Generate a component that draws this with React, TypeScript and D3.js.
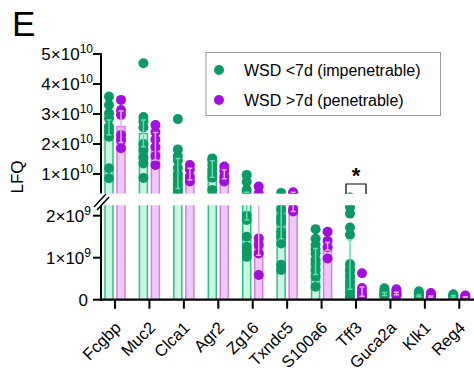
import React from 'react';
import * as d3 from 'd3';

// genes on the x axis
const categories = ['Fcgbp', 'Muc2', 'Clca1', 'Agr2', 'Zg16', 'Txndc5', 'S100a6', 'Tff3', 'Guca2a', 'Klk1', 'Reg4'];

// individual LFQ values, WSD <7d (impenetrable)
const greenPoints = [
  [3.58e10, 3.3e10, 3.02e10, 2.86e10, 2.58e10, 2.41e10, 2.24e10, 1.19e10, 0.86e10],
  [4.69e10, 2.9e10, 2.75e10, 2.55e10, 2.0e10, 1.8e10, 1.55e10, 1.35e10, 0.87e10],
  [2.83e10, 1.82e10, 1.6e10, 1.45e10, 1.2e10, 1.0e10, 0.85e10, 0.65e10, 0.5e10, 0.4e10],
  [1.52e10, 1.45e10, 1.3e10, 1.15e10, 1.0e10, 0.88e10, 0.47e10],
  [9.7e9, 7.4e9, 4.7e9, 3.6e9, 2.0e9, 1.9e9, 1.5e9, 1.26e9, 1.14e9, 1.02e9],
  [3.7e9, 2.15e9, 1.95e9, 1.85e9, 1.62e9, 1.5e9, 1.34e9, 0.83e9, 0.71e9],
  [1.68e9, 1.45e9, 1.3e9, 1.2e9, 1.1e9, 0.95e9, 0.85e9, 0.7e9, 0.55e9, 0.31e9],
  [2.2e9, 2.05e9, 1.72e9, 1.55e9, 0.85e9, 0.7e9, 0.55e9, 0.42e9, 0.3e9, 0.18e9, 0.08e9],
  [0.27e9, 0.22e9, 0.18e9, 0.15e9, 0.12e9, 0.1e9, 0.08e9],
  [0.2e9, 0.15e9, 0.12e9, 0.1e9, 0.08e9, 0.06e9],
  [0.13e9, 0.1e9, 0.08e9, 0.06e9],
];

// individual LFQ values, WSD >7d (penetrable)
const purplePoints = [
  [3.47e10, 3.13e10, 2.97e10, 2.3e10, 2.13e10, 1.86e10],
  [2.63e10, 2.4e10, 2.15e10, 1.9e10, 1.6e10, 1.3e10],
  [1.3e10, 1.15e10, 0.9e10, 0.75e10],
  [1.25e10, 1.1e10, 0.9e10, 0.75e10],
  [5.8e9, 3.6e9, 1.46e9, 1.3e9, 1.1e9, 0.59e9],
  [3.9e9, 3.6e9, 2.15e9, 2.1e9],
  [1.62e9, 1.4e9, 1.25e9, 0.98e9],
  [0.63e9, 0.28e9, 0.18e9, 0.1e9, 0.05e9],
  [0.25e9, 0.2e9, 0.15e9, 0.12e9, 0.1e9],
  [0.16e9, 0.12e9, 0.08e9, 0.06e9],
  [0.1e9, 0.08e9, 0.06e9],
];

// bar heights (mean) and error bar ends
const greenMean = [2.55e10, 2.35e10, 1.02e10, 1.17e10, 3.0e9, 2.3e9, 0.95e9, 0.83e9, 0.13e9, 0.09e9, 0.08e9];
const greenLo = [2.3e10, 1.91e10, 0.52e10, 0.89e10, 1.9e9, 1.45e9, 0.6e9, 0.25e9, 0.1e9, 0.07e9, 0.06e9];
const greenHi = [2.8e10, 2.8e10, 1.52e10, 1.44e10, 3.9e9, 3.15e9, 1.22e9, 1.42e9, 0.17e9, 0.11e9, 0.1e9];
const purpleMean = [2.58e10, 1.93e10, 1.0e10, 0.99e10, 1.5e9, 3.0e9, 1.27e9, 0.19e9, 0.15e9, 0.07e9, 0.06e9];
const purpleLo = [2.05e10, 1.47e10, 0.8e10, 0.84e10, 1.06e9, 2.1e9, 1.18e9, 0.08e9, 0.12e9, 0.05e9, 0.05e9];
const purpleHi = [3.1e10, 2.38e10, 1.19e10, 1.14e10, 2.6e9, 3.9e9, 1.36e9, 0.3e9, 0.18e9, 0.09e9, 0.07e9];

const topTicks = [1e10, 2e10, 3e10, 4e10, 5e10];
const bottomTicks = [0, 1e9, 2e9];

const seriesNames = ['WSD <7d (impenetrable)', 'WSD >7d (penetrable)'];

const FONT = '"Liberation Sans", Arial, sans-serif';
const GREEN = '#0b9a66';
const PURPLE = '#a30ee0';
const GREEN_FILL = '#cbf4e3';
const GREEN_EDGE = '#27c486';
const PURPLE_FILL = '#efcaf7';
const PURPLE_EDGE = '#d47cf0';
const GREEN_ERR = '#5ee0a8';
const PURPLE_ERR = '#f3a6f2';

const W = 474;
const H = 374;
const axisX = 101;

// broken y axis: two segments
const yTop = d3.scaleLinear().domain([3.5e9, 5e10]).range([193.5, 54]);
const yBot = d3.scaleLinear().domain([0, 2.25e9]).range([299.7, 205.2]);
const x = d3.scalePoint<string>().domain(categories).range([115, 459.3]);
const off = 6;
const barW = 8;

const tickLabel = (v: number) => {
  if (v === 0) return <tspan>0</tspan>;
  const exp = Math.floor(Math.log10(v));
  const m = Math.round(v / Math.pow(10, exp));
  return (
    <>
      <tspan>{`${m}×10`}</tspan>
      <tspan dy={-7} fontSize={12}>{exp}</tspan>
    </>
  );
};

const Marks = ({ y, clip }: { y: d3.ScaleLinear<number, number>; clip: string }) => {
  const groups = [
    { pts: greenPoints, mean: greenMean, lo: greenLo, hi: greenHi, dx: -off, fill: GREEN_FILL, edge: GREEN_EDGE, dot: GREEN, err: GREEN_ERR },
    { pts: purplePoints, mean: purpleMean, lo: purpleLo, hi: purpleHi, dx: off, fill: PURPLE_FILL, edge: PURPLE_EDGE, dot: PURPLE, err: PURPLE_ERR },
  ];
  return (
    <g clipPath={`url(#${clip})`}>
      {groups.map((s, si) =>
        categories.map((c, i) => {
          const cx = (x(c) as number) + s.dx;
          return (
            <rect key={`b${si}${i}`} x={cx - barW / 2} y={y(s.mean[i])} width={barW}
              height={Math.max(0, y(0) - y(s.mean[i]))} fill={s.fill} stroke={s.edge} strokeWidth={1.5} />
          );
        })
      )}
      {groups.map((s, si) =>
        categories.map((c, i) => {
          const cx = (x(c) as number) + s.dx;
          return s.pts[i].map((v, k) => (
            <circle key={`d${si}${i}${k}`} cx={cx} cy={y(v)} r={5} fill={s.dot} />
          ));
        })
      )}
      {groups.map((s, si) =>
        categories.map((c, i) => {
          const cx = (x(c) as number) + s.dx;
          const a = y(s.lo[i]);
          const b = y(s.hi[i]);
          return (
            <g key={`e${si}${i}`} stroke={s.err} strokeWidth={1.5}>
              <line x1={cx} x2={cx} y1={a} y2={b} />
              <line x1={cx - 2.5} x2={cx + 2.5} y1={a} y2={a} />
              <line x1={cx - 2.5} x2={cx + 2.5} y1={b} y2={b} />
            </g>
          );
        })
      )}
    </g>
  );
};

export default function App() {
  const tffG = (x('Tff3') as number) - off;
  const tffP = (x('Tff3') as number) + off;
  return (
    <svg width={W} height={H} style={{ position: 'absolute', left: 0, top: 0, background: '#fff' }}
      fontFamily={FONT}>
      <defs>
        <clipPath id="clipTop"><rect x={axisX} y={0} width={W} height={193.5} /></clipPath>
        <clipPath id="clipBot"><rect x={axisX} y={205.2} width={W} height={299.7 - 205.2} /></clipPath>
      </defs>

      <text x={12} y={36} fontSize={35} fill="#000">E</text>

      <Marks y={yTop} clip="clipTop" />
      <Marks y={yBot} clip="clipBot" />

      {/* y axis, top segment */}
      <line x1={axisX} x2={axisX} y1={yTop(5e10) - 1} y2={193.5} stroke="#000" strokeWidth={2} />
      {topTicks.map(t => (
        <g key={`tt${t}`}>
          <line x1={93} x2={axisX} y1={yTop(t)} y2={yTop(t)} stroke="#000" strokeWidth={2} />
          <text x={93} y={yTop(t) + 6} textAnchor="end" fontSize={17}>{tickLabel(t)}</text>
        </g>
      ))}

      {/* y axis, bottom segment */}
      <line x1={axisX} x2={axisX} y1={205.2} y2={301} stroke="#000" strokeWidth={2} />
      {bottomTicks.map(t => (
        <g key={`bt${t}`}>
          <line x1={93} x2={axisX} y1={yBot(t)} y2={yBot(t)} stroke="#000" strokeWidth={2} />
          <text x={t === 0 ? 88 : 91} y={yBot(t) + 6} textAnchor="end" fontSize={17}>{tickLabel(t)}</text>
        </g>
      ))}

      {/* axis break marks */}
      <line x1={94} y1={207} x2={106} y2={194} stroke="#000" strokeWidth={1.5} />
      <line x1={97} y1={210} x2={109} y2={197} stroke="#000" strokeWidth={1.5} />

      {/* x axis */}
      <line x1={axisX - 1} x2={W} y1={yBot(0)} y2={yBot(0)} stroke="#000" strokeWidth={2.2} />
      {categories.map(c => (
        <g key={`xt${c}`}>
          <line x1={x(c)} x2={x(c)} y1={yBot(0)} y2={yBot(0) + 9} stroke="#000" strokeWidth={2} />
          <text transform={`translate(${(x(c) as number) + 7},${yBot(0) + 29}) rotate(-45)`}
            textAnchor="end" fontSize={16.5}>{c}</text>
        </g>
      ))}

      <text transform="translate(23,177) rotate(-90)" textAnchor="middle" fontSize={17}>LFQ</text>

      {/* significance */}
      <path d={`M${tffG - 4},194 V184 H${tffP + 4} V194`} fill="none" stroke="#000" strokeWidth={1.2} />
      <text x={(tffG + tffP) / 2} y={183} textAnchor="middle" fontSize={22} fontWeight="bold">*</text>

      {/* legend */}
      <rect x={206} y={52.5} width={234.5} height={63} fill="#fff" stroke="#9a9a9a" strokeWidth={1} />
      {seriesNames.map((n, i) => (
        <g key={n}>
          <circle cx={219} cy={70 + i * 30} r={5} fill={i === 0 ? GREEN : PURPLE} />
          <text x={244} y={75.5 + i * 30} fontSize={16}>{n}</text>
        </g>
      ))}
    </svg>
  );
}
